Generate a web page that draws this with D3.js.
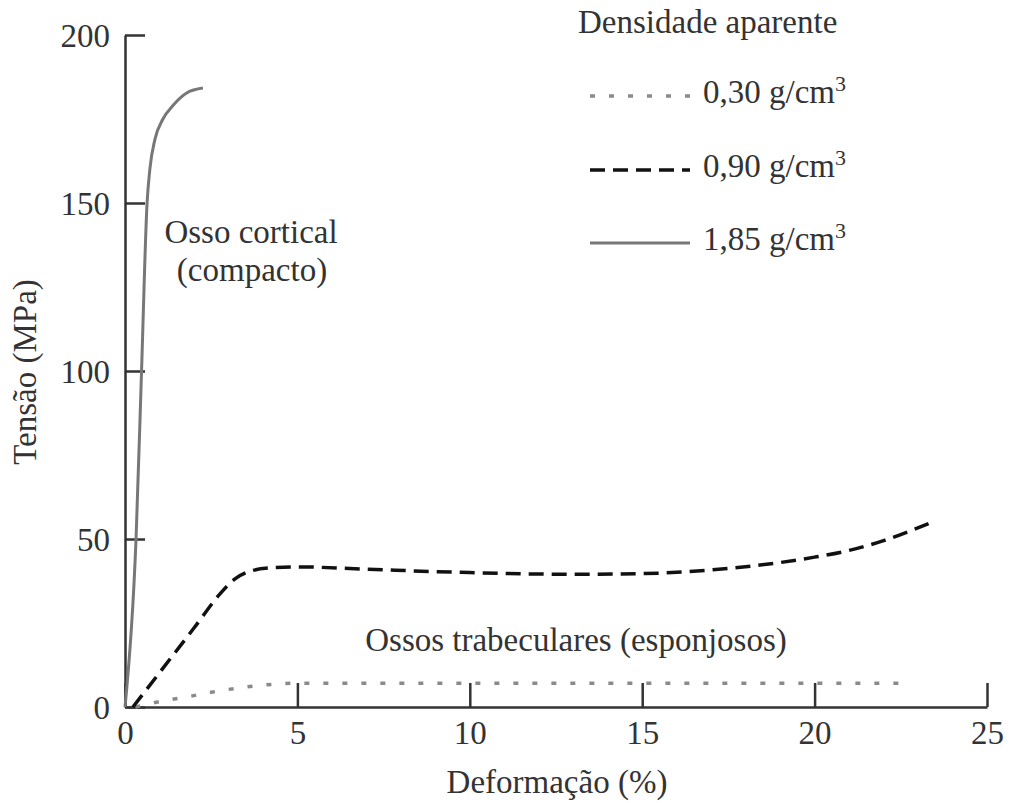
<!DOCTYPE html>
<html><head><meta charset="utf-8">
<script src="https://cdn.jsdelivr.net/npm/d3@7"></script>
<style>
body{margin:0;background:#fff;}
text{font-family:"Liberation Serif","Times New Roman",serif;fill:#333;}
</style></head>
<body><svg id="c" width="1013" height="803"></svg>
<script>
// Data (strain %, stress MPa)
const xTicks = [0, 5, 10, 15, 20, 25];
const yTicks = [0, 50, 100, 150, 200];
const strain030 = [0.3, 1.25, 1.8, 2.3, 2.85, 3.4, 4.0, 4.5, 5.0, 10, 15, 20, 22.6];
const stress030 = [0, 2.1, 3.0, 4.0, 5.0, 5.8, 6.5, 6.9, 7.1, 7.1, 7.1, 7.1, 7.1];
const strain090 = [0.23, 1.0, 2.0, 2.8, 3.2, 3.6, 4.2, 5.0, 7.0, 10, 13, 15, 17, 19, 20, 21, 22, 23.4];
const stress090 = [0, 10.2, 23.5, 34.2, 38.2, 40.3, 41.4, 41.7, 41, 40, 39.5, 39.7, 40.8, 43, 44.6, 46.6, 49.5, 55];
const strain185 = [0, 0.32, 0.48, 0.64, 0.72, 0.87, 1.1, 1.39, 1.8, 2.26];
const stress185 = [0, 50, 100, 150, 160, 169, 175, 179, 182.8, 184.2];
const legendTitle = "Densidade aparente";
const legendLabels = ["0,30", "0,90", "1,85"];
const xTitle = "Deformação (%)";
const yTitle = "Tensão (MPa)";

const svg = d3.select("#c");
const x = d3.scaleLinear().domain([0, 25]).range([125, 987]);
const y = d3.scaleLinear().domain([0, 200]).range([707, 35]);
const FS = 33;

// Axes
const gx = svg.append("g").attr("transform", "translate(0,707)")
  .call(d3.axisBottom(x).tickValues(xTicks).tickSizeInner(-24).tickSizeOuter(0).tickPadding(15));
const gy = svg.append("g").attr("transform", "translate(125,0)")
  .call(d3.axisLeft(y).tickValues(yTicks).tickSizeInner(-20).tickSizeOuter(0).tickPadding(15));
[gx, gy].forEach(g => {
  g.selectAll("path,line").attr("stroke", "#333").attr("stroke-width", 2.5);
  g.selectAll("text").attr("font-family", "Liberation Serif").attr("font-size", FS).attr("fill", "#333");
});
gx.selectAll(".tick text").attr("dy", "0.68em");
gy.selectAll(".tick text").attr("dy", "0.34em");

// Axis titles
svg.append("text").attr("x", 557).attr("y", 793).attr("text-anchor", "middle")
  .attr("font-size", FS).text(xTitle);
svg.append("text").attr("transform", "translate(36,372) rotate(-90)").attr("text-anchor", "middle")
  .attr("font-size", FS).text(yTitle);

// Series
const series = [
  {xs: strain030, ys: stress030, color: "#8a8a8a", width: 3.5, dash: "5,14"},
  {xs: strain090, ys: stress090, color: "#111", width: 3.5, dash: "15,8"},
  {xs: strain185, ys: stress185, color: "#777", width: 3, dash: null}
];
const line = d3.line().x(d => x(d[0])).y(d => y(d[1])).curve(d3.curveMonotoneX);
series.forEach(s => {
  const pts = s.xs.map((v, i) => [v, s.ys[i]]);
  svg.append("path").datum(pts).attr("d", line).attr("fill", "none")
    .attr("stroke", s.color).attr("stroke-width", s.width)
    .attr("stroke-dasharray", s.dash);
});

// Annotations
svg.append("text").attr("x", 251).attr("y", 243).attr("text-anchor", "middle").attr("font-size", FS).text("Osso cortical");
svg.append("text").attr("x", 252).attr("y", 281).attr("text-anchor", "middle").attr("font-size", FS).text("(compacto)");
svg.append("text").attr("x", 576).attr("y", 651).attr("text-anchor", "middle").attr("font-size", FS).text("Ossos trabeculares (esponjosos)");

// Legend
svg.append("text").attr("x", 578).attr("y", 33).attr("font-size", FS).text(legendTitle);
const ly = [103, 177, 250];
series.forEach((s, i) => {
  svg.append("line").attr("x1", 590).attr("x2", 690).attr("y1", ly[i] - 7).attr("y2", ly[i] - 7)
    .attr("stroke", s.color).attr("stroke-width", s.width).attr("stroke-dasharray", s.dash);
  const t = svg.append("text").attr("x", 703).attr("y", ly[i]).attr("font-size", FS);
  t.append("tspan").text(legendLabels[i] + " g/cm");
  t.append("tspan").attr("font-size", 22).attr("dy", -12).text("3");
});
</script></body></html>
